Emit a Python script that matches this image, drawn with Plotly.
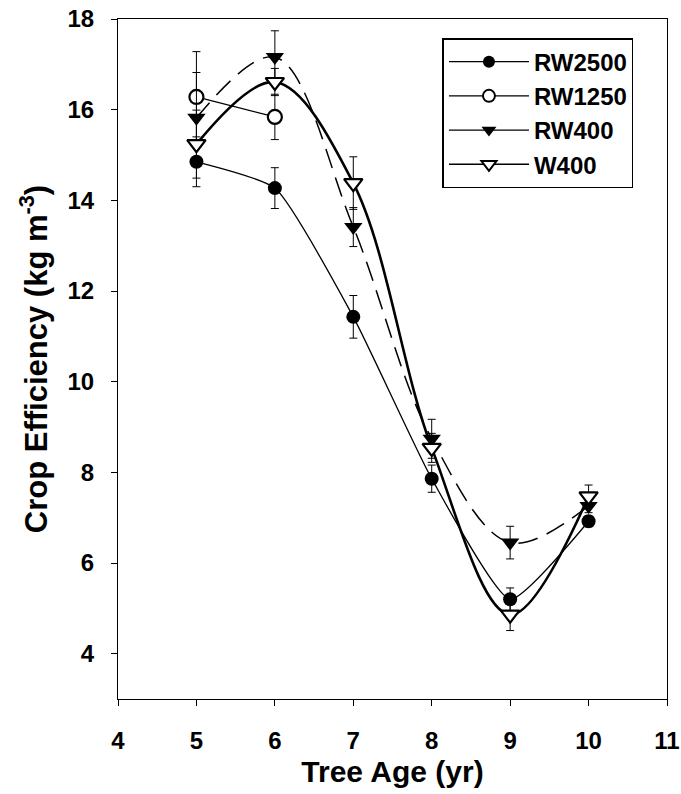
import plotly.graph_objects as go

# ---- data ----
age = [5, 6, 7, 8, 9, 10]

rw2500 = [14.85, 14.27, 11.43, 7.86, 5.20, 6.92]
rw2500_err = [0.55, 0.45, 0.47, 0.30, 0.25, 0.12]

age_rw1250 = [5, 6]
rw1250 = [16.28, 15.84]
rw1250_err = [1.00, 0.50]

rw400 = [15.82, 17.16, 13.41, 8.74, 6.45, 7.26]
rw400_err = [1.00, 0.58, 0.43, 0.43, 0.36, 0.15]

w400 = [15.24, 16.61, 14.38, 8.54, 4.86, 7.47]
w400_err = [0.75, 0.30, 0.58, 0.32, 0.35, 0.25]

names = ["RW2500", "RW1250", "RW400", "W400"]

FONT = "Liberation Sans, Arial, sans-serif"

fig = go.Figure()


def err(vals):
    return dict(type="data", array=vals, color="black", thickness=1, width=4)


# RW2500: thin solid, filled circle
fig.add_trace(go.Scatter(
    x=age, y=rw2500, mode="lines+markers", showlegend=False,
    line=dict(color="black", width=1.3, shape="spline", smoothing=0.5),
    marker=dict(symbol="circle", size=14, color="black"),
    error_y=err(rw2500_err)))

# RW1250: thin solid, open circle
fig.add_trace(go.Scatter(
    x=age_rw1250, y=rw1250, mode="lines+markers", showlegend=False,
    line=dict(color="black", width=1.3),
    marker=dict(symbol="circle", size=14, color="white",
                line=dict(color="black", width=2.2)),
    error_y=err(rw1250_err)))

# RW400: long dashed spline, filled down-triangle
fig.add_trace(go.Scatter(
    x=age, y=rw400, mode="lines+markers", showlegend=False,
    line=dict(color="black", width=1.5, dash="20px,10px", shape="spline", smoothing=1.0),
    marker=dict(symbol="triangle-down", size=16, color="black"),
    error_y=err(rw400_err)))

# W400: thick solid spline, open down-triangle
fig.add_trace(go.Scatter(
    x=age, y=w400, mode="lines+markers", showlegend=False,
    line=dict(color="black", width=2.6, shape="spline", smoothing=1.0),
    marker=dict(symbol="triangle-down", size=16, color="white",
                line=dict(color="black", width=2.2)),
    error_y=err(w400_err)))

# legend entries (solid lines, as in the reference legend)
leg_markers = [
    dict(symbol="circle", size=12, color="black"),
    dict(symbol="circle", size=12, color="white", line=dict(color="black", width=2)),
    dict(symbol="triangle-down", size=13, color="black"),
    dict(symbol="triangle-down", size=13, color="white", line=dict(color="black", width=2)),
]
for n, m in zip(names, leg_markers):
    fig.add_trace(go.Scatter(
        x=[None], y=[None], mode="lines+markers", name=n,
        line=dict(color="black", width=1.3), marker=m))

fig.update_layout(
    width=681, height=794,
    margin=dict(l=118, r=14, t=19, b=95, autoexpand=False),
    paper_bgcolor="white", plot_bgcolor="white",
    font=dict(family=FONT, color="black"),
    showlegend=True,
    legend=dict(
        x=0.591, y=0.972, xanchor="left", yanchor="top",
        bgcolor="white", bordercolor="black", borderwidth=1.5,
        font=dict(family=FONT, size=24, color="black", weight="bold"),
        tracegroupgap=0, itemwidth=80,
    ),
)

fig.update_xaxes(
    range=[4, 11], tickmode="array", tickvals=[4, 5, 6, 7, 8, 9, 10, 11],
    showgrid=False, zeroline=False,
    showline=True, linecolor="black", linewidth=1, mirror=True,
    ticks="outside", ticklen=6, tickcolor="black",
    ticklabelstandoff=14,
    tickfont=dict(family=FONT, size=24, weight="bold"),
    title=dict(text="Tree Age (yr)", font=dict(family=FONT, size=30, weight="bold"),
               standoff=8),
)
fig.update_yaxes(
    range=[3, 18], tickmode="array", tickvals=[4, 6, 8, 10, 12, 14, 16, 18],
    showgrid=False, zeroline=False,
    showline=True, linecolor="black", linewidth=1, mirror=True,
    ticks="outside", ticklen=6, tickcolor="black",
    ticklabelstandoff=12,
    tickfont=dict(family=FONT, size=24, weight="bold"),
    title=dict(text="Crop Efficiency (kg m<sup>-3</sup>)",
               font=dict(family=FONT, size=31, weight="bold"), standoff=10),
)

fig.write_html("out.html")
